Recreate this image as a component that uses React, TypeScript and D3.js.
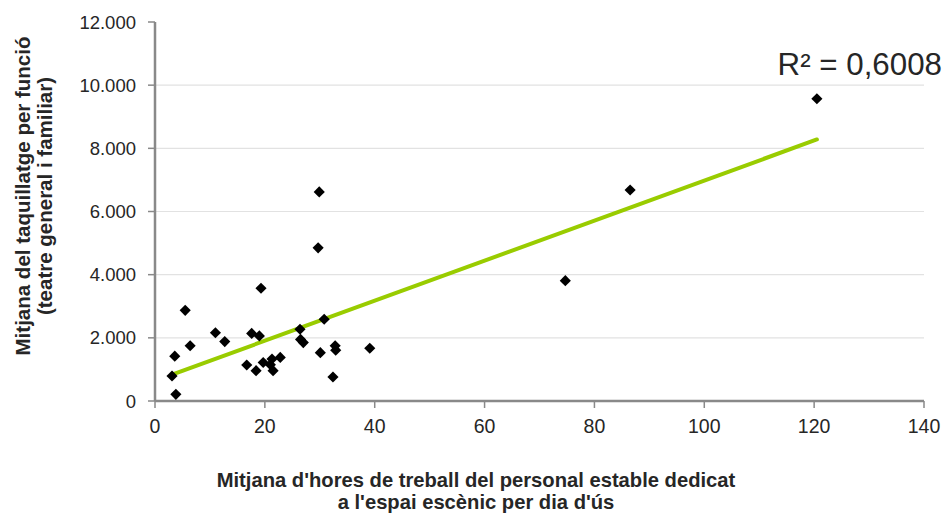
import * as d3 from 'd3'
import { useMemo } from 'react'

// hours of stable staff per day of use (x) vs box office per show (y)
const hoursPerDay = [
    29.9, 29.7, 19.3, 5.5, 11.0, 12.7, 6.4, 3.6, 3.1, 3.8,
    17.6, 19.0, 16.7, 18.4, 19.7, 21.3, 22.8, 21.5, 21.0, 26.4,
    26.5, 27.0, 30.8, 30.1, 32.8, 32.9, 32.4, 39.1, 120.5, 86.5,
    74.7
]
const boxOffice = [
    6620, 4850, 3570, 2870, 2160, 1880, 1750, 1420, 790, 210,
    2140, 2060, 1140, 960, 1220, 1330, 1380, 960, 1150, 2270,
    1950, 1850, 2590, 1530, 1750, 1610, 760, 1670, 9570, 6680,
    3810
]
const xTicks = [0, 20, 40, 60, 80, 100, 120, 140]
const yTicks = [0, 2000, 4000, 6000, 8000, 10000, 12000]
const rSquaredLabel = 'R² = 0,6008'
const xTitle = ["Mitjana d'hores de treball del personal estable dedicat", "a l'espai escènic per dia d'ús"]
const yTitle = ['Mitjana del taquillatge per funció', '(teatre general i familiar)']

const fmt = (v: number) => d3.format(',')(v).replace(/,/g, '.')

const App = () => {
    const left = 155
    const right = 924
    const top = 22
    const bottom = 401

    const x = useMemo(() => d3.scaleLinear().domain([0, 140]).range([left, right]), [])
    const y = useMemo(() => d3.scaleLinear().domain([0, 12000]).range([bottom, top]), [])

    // least squares trend line
    const trend = useMemo(() => {
        const mx = d3.mean(hoursPerDay)
        const my = d3.mean(boxOffice)
        let sxy = 0
        let sxx = 0
        hoursPerDay.forEach((v, i) => {
            sxy += (v - mx) * (boxOffice[i] - my)
            sxx += (v - mx) * (v - mx)
        })
        const slope = sxy / sxx
        const icpt = my - slope * mx
        const [x0, x1] = d3.extent(hoursPerDay)
        return [[x0, icpt + slope * x0], [x1, icpt + slope * x1]]
    }, [])

    const line = d3.line().x(d => x(d[0])).y(d => y(d[1]))
    const diamond = d3.symbol(d3.symbolSquare, 62)()

    const font = '"Liberation Sans", Arial, sans-serif'
    const axisColor = '#898989'

    return (
        <svg width={945} height={514} style={{ position: 'absolute', left: 0, top: 0 }} fontFamily={font}>
            <rect width={945} height={514} fill="#fff" />
            {yTicks.filter(t => t > 0 && t < 12000).map(t => (
                <line key={t} x1={left} x2={right} y1={y(t)} y2={y(t)} stroke="#e2e2e2" strokeWidth={1.2} />
            ))}
            {/* axes */}
            <line x1={left} x2={left} y1={top} y2={bottom} stroke={axisColor} strokeWidth={2.5} />
            <line x1={left} x2={right} y1={bottom} y2={bottom} stroke={axisColor} strokeWidth={2.5} />
            {yTicks.map(t => (
                <g key={t}>
                    <line x1={left - 7} x2={left} y1={y(t)} y2={y(t)} stroke={axisColor} strokeWidth={1.5} />
                    <text x={136} y={y(t)} dy="0.36em" textAnchor="end" fontSize={18.5} fill="#262626">{fmt(t)}</text>
                </g>
            ))}
            {xTicks.map(t => (
                <g key={t}>
                    <line x1={x(t)} x2={x(t)} y1={bottom} y2={bottom + 7} stroke={axisColor} strokeWidth={1.5} />
                    <text x={x(t)} y={433} textAnchor="middle" fontSize={19.5} fill="#262626">{t}</text>
                </g>
            ))}
            <path d={line(trend)} stroke="#99cc00" strokeWidth={4} fill="none" strokeLinecap="round" />
            {hoursPerDay.map((v, i) => (
                <path key={i} d={diamond} transform={`translate(${x(v)},${y(boxOffice[i])}) rotate(45)`} fill="#000" />
            ))}
            <text x={942} y={75} textAnchor="end" fontSize={31.3} fill="#262626">{rSquaredLabel}</text>
            {xTitle.map((s, i) => (
                <text key={i} x={476} y={487 + i * 22} textAnchor="middle" fontSize={20.2} fontWeight="bold" fill="#262626">{s}</text>
            ))}
            {yTitle.map((s, i) => (
                <text key={i} transform={`translate(${30 + i * 22},196) rotate(-90)`} textAnchor="middle" fontSize={20.5} fontWeight="bold" fill="#262626">{s}</text>
            ))}
        </svg>
    )
}

export default App
